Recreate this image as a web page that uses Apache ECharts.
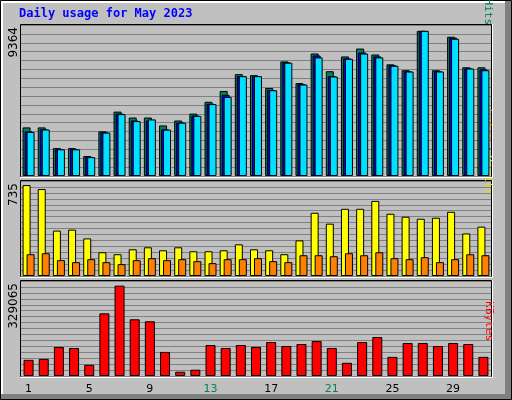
<!DOCTYPE html>
<html><head><meta charset="utf-8">
<script src="https://cdn.jsdelivr.net/npm/echarts@6/dist/echarts.min.js"></script>
<style>html,body{margin:0;padding:0;background:#c0c0c0}#c{width:512px;height:400px}</style>
</head><body><div id="c"></div>
<script>
const days = ['1','2','3','4','5','6','7','8','9','10','11','12','13','14','15','16','17','18','19','20','21','22','23','24','25','26','27','28','29','30','31'];
const weekend = ['6','7','13','14','20','21','27','28'];
const hits  = [3135,3135,1801,1801,1292,2881,4152,3771,3771,3263,3580,4025,4788,5487,6568,6504,5678,7394,5995,7902,6758,7712,8220,7839,7203,6822,9364,6822,8983,7013,7013];
const files = [2881,3008,1737,1737,1229,2818,4025,3580,3580,3008,3453,3898,4661,5233,6440,6440,5551,7330,5932,7775,6440,7585,7966,7712,7140,6758,9364,6758,8919,6949,6885];
const pages = [2840,3000,1720,1720,1215,2800,3990,3540,3650,2990,3440,3880,4640,5100,6440,6440,5530,7310,5900,7650,6420,7560,7900,7650,7110,6740,9364,6740,8850,6930,6820];
const visits= [735,703,367,375,304,192,176,216,232,208,232,200,200,208,256,216,208,176,288,511,423,543,543,607,503,479,463,471,519,344,399];
const sites = [176,184,128,112,136,112,96,128,144,128,136,120,104,136,136,144,120,112,168,168,160,184,168,192,144,136,152,112,136,176,168];
const kbytes= [58852,62449,105685,102082,40832,228183,329065,206566,199360,87671,15613,22818,112891,102082,112891,105685,123700,109288,116494,127303,102082,48038,123700,141714,69656,120097,120097,109288,120097,116494,69656];
const maxLabels = ['9364','735','329065'];

const chart = echarts.init(document.getElementById('c'));
const L=21, R=21;
const grids=[{left:L,right:R,top:25,height:151},{left:L,right:R,top:181,height:95},{left:L,right:R,top:281,height:95}];
const gline={show:true,lineStyle:{color:'#808080',width:1}};
function xa(i,show){return {type:'category',gridIndex:i,data:days,boundaryGap:true,
  axisLine:{show:false},axisTick:{show:false},splitLine:{show:false},
  axisLabel:show?{show:true,margin:8,fontFamily:'DejaVu Sans',fontSize:11,color:'#000',
    formatter:v=>weekend.includes(v)?'{w|'+v+'}':v,rich:{w:{color:'#008060',fontFamily:'DejaVu Sans',fontSize:11}}}:{show:false}};}
function ya(i,max,interval){return {type:'value',gridIndex:i,min:0,max:max,interval:interval,
  axisLine:{show:false},axisTick:{show:false},axisLabel:{show:false},splitLine:gline};}
const bs={borderColor:'#000',borderWidth:1};
const opt={
  backgroundColor:'#c0c0c0',animation:false,
  grid:grids,
  xAxis:[xa(0,false),xa(1,false),xa(2,true)],
  yAxis:[ya(0,573*17,573),ya(1,48*16,48),ya(2,21625*16,21625)],
  series:[
    {type:'bar',xAxisIndex:0,yAxisIndex:0,data:hits,barWidth:8,barGap:'-75%',itemStyle:{color:'#008060',...bs}},
    {type:'bar',xAxisIndex:0,yAxisIndex:0,data:files,barWidth:8,barGap:'-75%',itemStyle:{color:'#0000ff',...bs}},
    {type:'bar',xAxisIndex:0,yAxisIndex:0,data:pages,barWidth:8,barGap:'-75%',itemStyle:{color:'#00e0ff',...bs}},
    {type:'bar',xAxisIndex:1,yAxisIndex:1,data:visits,barWidth:8,barGap:'-50%',itemStyle:{color:'#ffff00',...bs}},
    {type:'bar',xAxisIndex:1,yAxisIndex:1,data:sites,barWidth:8,barGap:'-50%',itemStyle:{color:'#ff8000',...bs}},
    {type:'bar',xAxisIndex:2,yAxisIndex:2,data:kbytes,barWidth:10,itemStyle:{color:'#ff0000',...bs}}
  ],
  graphic:[
    {type:'rect',shape:{x:0.5,y:0.5,width:511,height:399},style:{fill:null,stroke:'#000',lineWidth:1},z:0},
    {type:'rect',shape:{x:505,y:1,width:6,height:398},style:{fill:'#808080'},z:0},
    {type:'rect',shape:{x:1,y:394,width:510,height:5},style:{fill:'#808080'},z:0},
    {type:'rect',shape:{x:1,y:1,width:504,height:2},style:{fill:'#ffffff'},z:0},
    {type:'rect',shape:{x:1,y:1,width:2,height:393},style:{fill:'#ffffff'},z:0},
    ...grids.map(g=>({type:'rect',shape:{x:g.left-0.5,y:g.top-0.5,width:512-L-R+1,height:g.height+1},style:{fill:null,stroke:'#000',lineWidth:1},z:-1})),
    ...grids.map(g=>({type:'polyline',shape:{points:[[g.left-1,g.top+g.height+1.5],[512-R+1.5,g.top+g.height+1.5],[512-R+1.5,g.top-1]]},style:{stroke:'#fff',lineWidth:1,fill:null},z:10})),
    {type:'text',left:19,top:8,style:{text:'Daily usage for May 2023',fill:'#0000ff',font:'bold 12px "DejaVu Sans Mono"'}},
    ...maxLabels.map((t,i)=>({type:'text',x:8,y:grids[i].top+2,rotation:Math.PI/2,style:{text:t,fill:'#000',font:'12px "DejaVu Sans"',align:'right',verticalAlign:'top'}})),
    {type:'text',x:494,y:25,rotation:-Math.PI/2,style:{text:'{a|Pages} {s|/} {b|Files} {s|/} {c|Hits}',align:'right',verticalAlign:'top',
      rich:{a:{fill:'#00c0c0',font:'11px "DejaVu Sans Mono"'},b:{fill:'#0000ff',font:'11px "DejaVu Sans Mono"'},c:{fill:'#008060',font:'11px "DejaVu Sans Mono"'},s:{fill:'#000',font:'11px "DejaVu Sans Mono"'}}}},
    {type:'text',x:494,y:195,rotation:-Math.PI/2,style:{text:'{a|Sites} {s|/} {b|Visits}',align:'right',verticalAlign:'top',
      rich:{a:{fill:'#ff8000',font:'11px "DejaVu Sans Mono"'},b:{fill:'#e0e000',font:'11px "DejaVu Sans Mono"'},s:{fill:'#000',font:'11px "DejaVu Sans Mono"'}}}},
    {type:'text',x:494,y:341,rotation:-Math.PI/2,style:{text:'KBytes',align:'right',verticalAlign:'top',fill:'#ff0000',font:'11px "DejaVu Sans Mono"'}}
  ]
};
chart.setOption(opt);
</script></body></html>
